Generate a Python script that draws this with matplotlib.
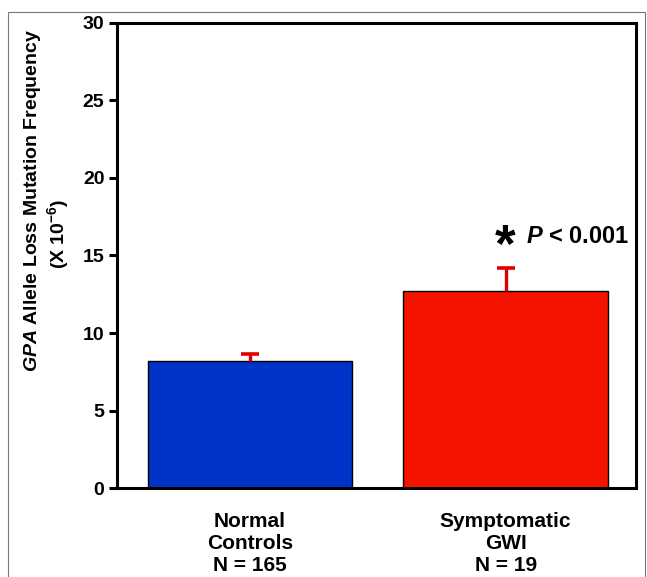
"""
plot.py

Bar chart of GPA allele loss mutation frequency
for normal controls and symptomatic GWI.
"""

import matplotlib
matplotlib.use("Agg")
import matplotlib.pyplot as plt
from matplotlib.patches import Rectangle

plt.rcParams["font.family"] = ["Liberation Sans", "DejaVu Sans"]
plt.rcParams["mathtext.fontset"] = "custom"
plt.rcParams["mathtext.rm"] = "Liberation Sans:bold"
plt.rcParams["mathtext.it"] = "Liberation Sans:italic:bold"
plt.rcParams["mathtext.bf"] = "Liberation Sans:bold"

groups = ["Normal\nControls\nN = 165", "Symptomatic\nGWI\nN = 19"]
means = [8.2, 12.7]
errors = [0.43, 1.5]
bar_colors = ["#0033c8", "#f51300"]
y_ticks = [0, 5, 10, 15, 20, 25, 30]

fig = plt.figure(figsize=(6.47, 5.77), dpi=100)
ax = fig.add_axes([0.1808, 0.1542, 0.8022, 0.806])

x = list(range(len(groups)))
ax.bar(x, means, width=0.8, color=bar_colors, edgecolor="black",
       linewidth=1.0, zorder=2)

# upper half error bars only
tops = [m + e for m, e in zip(means, errors)]
ax.vlines(x, means, tops, color="#e00000", linewidth=2.4, zorder=3)
ax.hlines(tops, [i - 0.035 for i in x], [i + 0.035 for i in x],
          color="#e00000", linewidth=2.6, zorder=3)

ax.set_xlim(-0.52, 1.51)
ax.set_ylim(0, 30)
ax.set_yticks(y_ticks)
ax.set_yticklabels([str(t) for t in y_ticks], fontsize=14, fontweight="bold")
ax.set_xticks(x)
ax.set_xticklabels(groups, fontsize=15, fontweight="bold", linespacing=1.22)
ax.tick_params(axis="x", length=0, pad=17)
ax.tick_params(axis="y", length=6, width=2.2, pad=3, direction="out")

for side in ["left", "right", "top", "bottom"]:
    ax.spines[side].set_linewidth(2.2)

# significance marker
ax.text(1.0, 15.5, "*", fontsize=38, fontweight="bold", ha="center",
        va="center")
ax.text(1.08, 16.25, r"$\it{P}$ < 0.001", fontsize=17, fontweight="bold",
        ha="left", va="center")

# axis label in two lines
fig.text(0.050, 1 - 200 / 577, r"$\it{GPA}$ Allele Loss Mutation Frequency",
         rotation=90, fontsize=14, fontweight="bold", ha="center", va="center")
fig.text(0.090, 1 - 234 / 577, r"(X 10$^{-6}$)",
         rotation=90, fontsize=14, fontweight="bold", ha="center", va="center")

# thin frame round the figure
fig.patches.append(Rectangle((8 / 647, -0.05), 637 / 647, 1.05 - 12 / 577,
                             transform=fig.transFigure, fill=False,
                             edgecolor="#777777", linewidth=0.8))

fig.savefig("out.png", dpi=100)
